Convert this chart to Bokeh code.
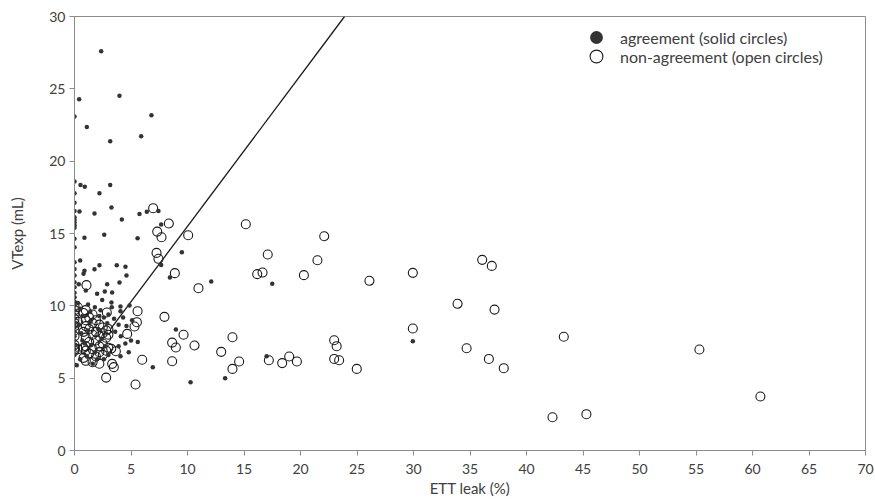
from bokeh.plotting import figure
from bokeh.models import Range1d, Legend, LegendItem, FixedTicker
from bokeh.embed import file_html
from bokeh.resources import INLINE

# ---- data: agreement (solid dots) ----
agree_x = [
    2.36, 0.41, 3.98, 0.0, 6.81, 1.09, 5.9, 3.16,
    0.0, 0.0, 0.0, 0.0, 0.0, 0.0, 0.0, 0.0, 0.0, 0.0, 0.0, 0.0, 0.0, 0.0, 0.0, 0.0,
    0.0, 0.0, 0.0, 0.0, 0.0, 0.0, 0.0, 0.0, 0.0, 0.0, 0.0, 0.0, 0.0, 0.0, 0.0, 0.0,
    0.53, 0.91, 3.16, 2.21, 3.27, 0.44, 1.77, 5.75, 4.19, 6.4, 7.43, 7.67,
    0.88, 2.63, 5.58, 0.5, 0.88, 0.8, 1.77, 2.21, 3.74, 4.51, 4.6, 3.98, 2.89, 0.38,
    9.5, 7.67, 8.44, 12.1, 17.5, 8.97, 6.93, 10.27, 13.33, 17.0, 29.94,
    1.0, 2.0, 2.68, 3.33, 2.45, 3.27, 4.07, 4.87, 4.07, 4.07,
    0.3, 0.5, 0.7, 1.2, 1.4, 1.8, 2.3, 2.6, 3.0, 3.5, 3.9, 4.3, 4.6, 5.1, 3.6, 4.1,
    4.5, 5.0, 3.9, 4.8, 0.4, 0.6, 0.7, 1.2, 1.5, 1.8, 2.1, 2.4, 2.7, 1.1, 0.5, 2.0,
    2.6, 3.0, 5.6, 0.2, 1.4, 0.9, 2.9, 3.3, 1.6, 2.2,
]
agree_y = [
    27.6, 24.28, 24.53, 23.08, 23.17, 22.37, 21.72, 21.38,
    18.59, 17.78, 17.12, 16.56, 16.12, 15.94, 15.76, 15.57, 15.39, 14.63, 14.05, 13.01, 12.55, 12.09, 11.63, 11.28,
    5.92, 6.6, 7.0, 7.3, 7.6, 7.9, 8.2, 8.5, 8.8, 9.1, 9.4, 9.7, 10.0, 10.3, 10.6, 10.9,
    18.36, 18.24, 18.36, 17.78, 16.79, 16.52, 16.38, 16.35, 15.96, 16.5, 16.56, 15.62,
    14.70, 14.91, 14.67, 13.13, 12.42, 12.21, 12.53, 12.81, 12.81, 12.7, 12.09, 11.61, 11.49, 11.49,
    13.7, 12.83, 11.96, 11.68, 11.52, 8.36, 5.76, 4.72, 5.0, 6.52, 7.55,
    11.06, 10.83, 10.99, 10.92, 10.41, 10.23, 9.95, 10.02, 9.63, 6.52,
    10.2, 9.8, 9.3, 10.1, 9.6, 9.9, 9.7, 9.2, 9.4, 9.1, 8.7, 9.2, 8.6, 9.0, 8.2, 7.9,
    7.4, 7.6, 7.2, 6.8, 8.7, 8.1, 7.6, 8.3, 7.3, 6.8, 8.4, 7.7, 7.2, 6.5, 6.3, 6.3,
    6.3, 6.6, 7.5, 5.9, 8.9, 7.4, 8.8, 9.9, 6.0, 9.3,
]

# ---- data: non-agreement (open circles) ----
nonagree_x = [
    6.96, 8.35, 7.32, 7.70, 10.06, 15.16, 22.1, 7.26, 7.43, 17.1, 21.5, 8.88, 16.17, 16.64,
    20.3, 10.97, 26.1, 7.96, 9.65, 8.64, 8.97, 10.62, 13.98, 12.98, 22.98, 23.2, 5.99, 8.64,
    14.57, 13.98, 17.2, 19.0, 18.38, 19.68, 22.98, 23.42, 24.98,
    29.94, 36.08, 36.93, 33.9, 37.17, 29.94, 43.3, 34.7, 36.67, 37.99, 42.3, 55.3, 60.7, 45.3,
    2.86, 5.58, 5.52, 5.31, 4.66, 2.8, 5.4, 3.33, 3.48, 3.66, 3.25, 1.06,
    0.0, 0.0, 0.0, 0.0, 0.0, 0.0, 0.0, 0.0, 0.0, 0.0, 0.0, 0.0,
    0.3, 0.3, 0.3, 0.8, 0.8, 0.8, 0.8, 1.0, 1.0, 1.0, 1.0, 1.0, 1.0, 1.0,
    1.3, 1.3, 1.3, 1.3, 1.6, 1.6, 1.6, 1.6, 1.6, 1.9, 1.9, 1.9, 1.9,
    2.2, 2.2, 2.2, 2.2, 2.2, 2.5, 2.5, 2.5, 2.5, 2.8, 2.8, 2.8, 3.0, 3.0, 3.0,
]
nonagree_y = [
    16.75, 15.69, 15.13, 14.74, 14.88, 15.64, 14.81, 13.66, 13.25, 13.55, 13.15, 12.26, 12.19, 12.30,
    12.12, 11.22, 11.73, 9.24, 8.0, 7.46, 7.12, 7.26, 7.83, 6.82, 7.62, 7.21, 6.27, 6.17,
    6.15, 5.64, 6.24, 6.50, 6.04, 6.15, 6.33, 6.24, 5.64,
    12.28, 13.18, 12.76, 10.14, 9.74, 8.43, 7.86, 7.07, 6.33, 5.69, 2.30, 6.98, 3.73, 2.51,
    9.54, 9.63, 8.87, 8.57, 8.06, 5.04, 4.56, 5.99, 5.76, 6.86, 7.03, 11.43,
    10.0, 9.7, 9.4, 9.1, 8.8, 8.6, 8.3, 7.9, 7.3, 7.1, 7.0, 6.9,
    9.9, 8.9, 7.0, 9.5, 8.2, 7.1, 6.4, 9.7, 9.0, 8.6, 7.8, 7.2, 6.9, 6.2,
    9.2, 8.4, 7.5, 6.7, 9.4, 8.8, 8.0, 7.0, 6.1, 9.0, 8.2, 7.6, 6.5,
    8.7, 7.9, 7.2, 6.8, 6.0, 8.5, 8.1, 7.4, 6.6, 8.3, 7.8, 6.9, 8.4, 8.0, 7.1,
]

# ---- boundary line ----
line_x = [3.2, 23.9]
line_y = [8.4, 30.0]

x_ticks = list(range(0, 75, 5))
y_ticks = list(range(0, 35, 5))

FONT = "Lato"
TXT = "#404040"
AX = "#8c8c8c"

p = figure(width=875, height=500, x_range=Range1d(0, 70), y_range=Range1d(0, 30),
           output_backend="svg", toolbar_location=None,
           min_border_left=74, min_border_right=10, min_border_top=16, min_border_bottom=50)
p.grid.visible = False
p.outline_line_color = AX
p.outline_line_width = 1
p.background_fill_color = "white"

for ax in (p.xaxis[0], p.yaxis[0]):
    ax.axis_line_color = AX
    ax.major_tick_line_color = AX
    ax.minor_tick_line_color = None
    ax.major_tick_out = 5
    ax.major_tick_in = 0
    ax.major_label_text_font = FONT
    ax.major_label_text_font_size = "14px"
    ax.major_label_text_color = TXT
    ax.axis_label_text_font = FONT
    ax.axis_label_text_font_size = "15px"
    ax.axis_label_text_font_style = "normal"
    ax.axis_label_text_color = TXT

p.xaxis.ticker = FixedTicker(ticks=x_ticks)
p.yaxis.ticker = FixedTicker(ticks=y_ticks)
p.xaxis.axis_label = "ETT leak (%)"
p.yaxis.axis_label = "VTexp (mL)"
p.xaxis.major_label_standoff = 8
p.yaxis.major_label_standoff = 4
p.xaxis.axis_label_standoff = 2
p.yaxis.axis_label_standoff = 20

p.line(line_x, line_y, line_color="#1a1a1a", line_width=1.3)
r_open = p.scatter(nonagree_x, nonagree_y, marker="circle", size=9,
                   line_color="#1a1a1a", line_width=1.1, fill_color=None)
r_solid = p.scatter(agree_x, agree_y, marker="circle", size=4.5,
                    line_color=None, fill_color="#333333")

common = dict(glyph_width=32, glyph_height=32, padding=0, margin=0, label_standoff=8,
              border_line_color=None, background_fill_alpha=0,
              label_text_font=FONT, label_text_font_size="16px", label_text_color=TXT)
leg1 = Legend(items=[LegendItem(label="agreement (solid circles)", renderers=[r_solid])],
              location=(506, 397), **common)
leg2 = Legend(items=[LegendItem(label="non-agreement (open circles)", renderers=[r_open])],
              location=(506, 378), **common)
p.add_layout(leg1)
p.add_layout(leg2)

open("out.html", "w").write(file_html(p, INLINE))
